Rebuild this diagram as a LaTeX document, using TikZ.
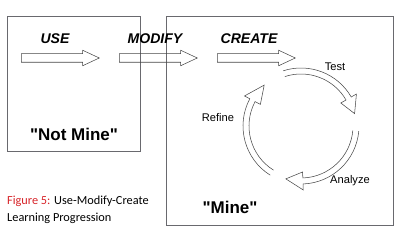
\documentclass[tikz,border=0pt]{standalone}
\usepackage{fontspec}
\setmainfont{Liberation Sans}[Ligatures=TeXOff]
\newfontfamily\capfont{Carlito}
\usetikzlibrary{shapes.arrows,positioning}
\definecolor{framegray}{RGB}{105,105,110}
\definecolor{figred}{RGB}{215,35,40}
\definecolor{inkgray}{RGB}{70,70,70}

\begin{document}
\begin{tikzpicture}[
  x=0.03cm, y=-0.03cm,
  frame/.style={draw=framegray, line width=0.8pt, inner sep=0pt},
  stage/.style={font=\bfseries\itshape\fontsize{12}{14}\selectfont},
  owner/.style={font=\bfseries\fontsize{14.5}{16}\selectfont},
  flow/.style={
    single arrow, draw=inkgray, line width=0.45pt,
    inner xsep=0pt, inner ysep=0.12cm,
    minimum height=2.34cm,
    single arrow head extend=0.105cm, single arrow tip angle=50,
    anchor=tail
  },
  cyc/.style={draw=inkgray, line width=0.45pt, line join=miter},
  cyctxt/.style={font=\fontsize{9.5}{11}\selectfont},
  caption/.style={font=\capfont\fontsize{10.5}{14.5}\selectfont, align=left, anchor=north west, inner sep=0pt}
]
  \useasboundingbox (0,0) rectangle (400,237);

  % Frames
  \node[frame, minimum width=3.99cm, minimum height=4.05cm] (notmine) at (73.5,83.5) {};
  \node[frame, minimum width=6.81cm, minimum height=6.27cm] (mine) at (279.5,120.5) {};

  % Stages
  \node[stage] (use) at (55,39) {USE};
  \node[stage] (modify) at (155,39) {MODIFY};
  \node[stage] (create) at (249,39) {CREATE};
  \node[flow] (usearr) at (21,58) {};
  \node[flow] (modarr) at (119,58) {};
  \node[flow] (crearr) at (217,58) {};

  % Ownership
  \node[owner] (notminetxt) at (74,134) {"Not Mine"};
  \node[owner] (minetxt) at (230,207) {"Mine"};

  % Cycle
  \coordinate (hub) at (301,126);
  \foreach \s/\b/\t in {-108/-30/-13, 5/88/106, 122/208/228} {
    \draw[cyc] ([shift={(\s:58)}]hub) arc[start angle=\s, end angle=\b, radius=58]
      -- ([shift={(\b:64)}]hub) -- ([shift={(\t:55)}]hub) -- ([shift={(\b:46)}]hub)
      -- ([shift={(\b:52)}]hub) arc[start angle=\b, end angle=\s, radius=52];
  }
  \node[cyctxt] (test) at (335,67) {Test};
  \node[cyctxt] (analyze) at (350,181) {Analyze};
  \node[cyctxt] (refine) at (218,118) {Refine};

  % Caption
  \node[caption] (cap) at (7,196) {\textcolor{figred}{Figure 5:} Use-Modify-Create\\Learning Progression};
\end{tikzpicture}
\end{document}
